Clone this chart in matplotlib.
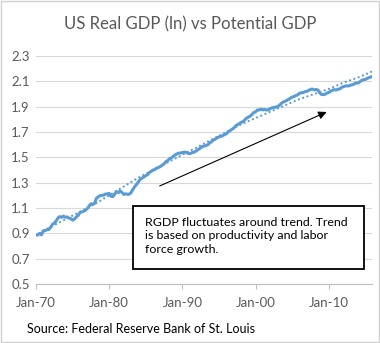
#! python3

# step 0. configuration
import matplotlib

matplotlib.use("Agg")
import matplotlib.pyplot as plt
from matplotlib.patches import Rectangle

plt.rcParams["font.family"] = ["Lato", "DejaVu Sans"]

# step 1. data

# quarterly ln real GDP, 1970Q1 - 2015Q4
rgdp_start = 1970
rgdp_ln = [
    0.887, 0.887, 0.900, 0.889,  # 1970
    0.920, 0.922, 0.929, 0.930,
    0.947, 0.971, 0.980, 0.997,
    1.021, 1.032, 1.026, 1.036,
    1.027, 1.030, 1.020, 1.016,
    1.004, 1.012, 1.029, 1.041,  # 1975
    1.064, 1.069, 1.074, 1.082,
    1.095, 1.115, 1.133, 1.130,
    1.136, 1.176, 1.187, 1.198,
    1.200, 1.202, 1.210, 1.212,
    1.215, 1.192, 1.190, 1.209,  # 1980
    1.229, 1.222, 1.234, 1.223,
    1.207, 1.212, 1.208, 1.209,
    1.222, 1.248, 1.270, 1.287,
    1.308, 1.327, 1.337, 1.345,
    1.356, 1.364, 1.381, 1.389,  # 1985
    1.400, 1.404, 1.416, 1.420,
    1.428, 1.439, 1.449, 1.466,
    1.475, 1.490, 1.495, 1.508,
    1.519, 1.527, 1.533, 1.534,
    1.538, 1.541, 1.540, 1.532,  # 1990
    1.528, 1.535, 1.540, 1.545,
    1.556, 1.565, 1.575, 1.586,
    1.589, 1.594, 1.601, 1.615,
    1.624, 1.638, 1.643, 1.655,
    1.661, 1.664, 1.671, 1.680,  # 1995
    1.685, 1.701, 1.710, 1.721,
    1.730, 1.746, 1.758, 1.764,
    1.775, 1.782, 1.794, 1.809,
    1.817, 1.825, 1.838, 1.854,
    1.859, 1.874, 1.874, 1.880,  # 2000
    1.874, 1.878, 1.873, 1.876,
    1.885, 1.891, 1.894, 1.896,
    1.902, 1.910, 1.925, 1.936,
    1.942, 1.949, 1.957, 1.966,
    1.976, 1.980, 1.988, 1.993,  # 2005
    2.006, 2.010, 2.011, 2.018,
    2.021, 2.029, 2.036, 2.039,
    2.032, 2.036, 2.032, 2.010,
    1.996, 1.995, 1.998, 2.008,
    2.012, 2.022, 2.029, 2.035,  # 2010
    2.031, 2.038, 2.040, 2.052,
    2.058, 2.063, 2.064, 2.064,
    2.071, 2.073, 2.081, 2.088,
    2.086, 2.097, 2.108, 2.113,
    2.115, 2.124, 2.129, 2.135,  # 2015
]
rgdp_x = [rgdp_start + i / 4 for i in range(len(rgdp_ln))]

# potential GDP (ln), every second year
potential_years = [1970, 1972, 1974, 1976, 1978, 1980, 1982, 1984, 1986, 1988,
                   1990, 1992, 1994, 1996, 1998, 2000, 2002, 2004, 2006, 2008,
                   2010, 2012, 2014, 2016]
potential_ln = [0.885, 0.95, 1.01, 1.07, 1.13, 1.20, 1.27, 1.34, 1.40, 1.46,
                1.52, 1.58, 1.64, 1.70, 1.76, 1.81, 1.86, 1.91, 1.96, 2.00,
                2.04, 2.09, 2.13, 2.18]

x_ticks = [1970, 1980, 1990, 2000, 2010]
x_labels = ["Jan-70", "Jan-80", "Jan-90", "Jan-00", "Jan-10"]
y_ticks = [0.5, 0.7, 0.9, 1.1, 1.3, 1.5, 1.7, 1.9, 2.1, 2.3]

title = "US Real GDP (ln) vs Potential GDP"
note = "RGDP fluctuates around trend. Trend\nis based on productivity and labor\nforce growth."
source = "Source: Federal Reserve Bank of St. Louis"

# step 2. figure
blue = "#5B9BD5"
grey_text = "#595959"

fig = plt.figure(figsize=(3.8, 3.43), dpi=100)
fig.patches.append(Rectangle((0.0015, 0.0015), 0.997, 0.997, transform=fig.transFigure,
                             fill=False, edgecolor="#D0D0D0", linewidth=1))

ax = fig.add_axes([36 / 380, 1 - 284 / 343, 336 / 380, 228 / 343])
ax.plot(rgdp_x, rgdp_ln, color=blue, linewidth=2.2, solid_joinstyle="round")
ax.plot(potential_years, potential_ln, color=blue, linewidth=1.6,
        linestyle=(0, (0.05, 2.0)), dash_capstyle="round")

ax.set_xlim(1970, 2015.9)
ax.set_ylim(0.5, 2.3)
ax.set_xticks(x_ticks)
ax.set_xticklabels(x_labels)
ax.set_yticks(y_ticks)
ax.set_yticklabels([f"{v:.1f}" for v in y_ticks])
ax.tick_params(axis="y", length=0, pad=4.5, labelsize=9.5, labelcolor=grey_text)
ax.tick_params(axis="x", length=3.5, width=0.8, color="#BFBFBF", pad=6,
               labelsize=9.5, labelcolor=grey_text)
ax.grid(axis="y", color="#D9D9D9", linewidth=0.8)
ax.set_axisbelow(True)
for side in ["left", "right", "top"]:
    ax.spines[side].set_visible(False)
ax.spines["bottom"].set_color("#BFBFBF")
ax.spines["bottom"].set_linewidth(0.8)

# arrow pointing at the trend
ax.annotate("", xy=(2009.7, 1.858), xytext=(1986.9, 1.274),
            arrowprops=dict(arrowstyle="-|>", color="black", lw=0.8,
                            mutation_scale=12, shrinkA=0, shrinkB=0))

# note box
fig.patches.append(Rectangle((133 / 380, 1 - 269 / 343), 231 / 380, 63 / 343,
                             transform=fig.transFigure, facecolor="white",
                             edgecolor="black", linewidth=1.3, zorder=5))
fig.text(145 / 380, 1 - 216.5 / 343, note, fontsize=8.9, color="black", va="top",
         ha="left", linespacing=1.3, zorder=6)

fig.text(0.5, 1 - 24 / 343, title, fontsize=12.1, color=grey_text, ha="center", va="center")
fig.text(27 / 380, 1 - 329 / 343, source, fontsize=9.0, color="black", ha="left", va="center")

fig.savefig("out.png", dpi=100)
